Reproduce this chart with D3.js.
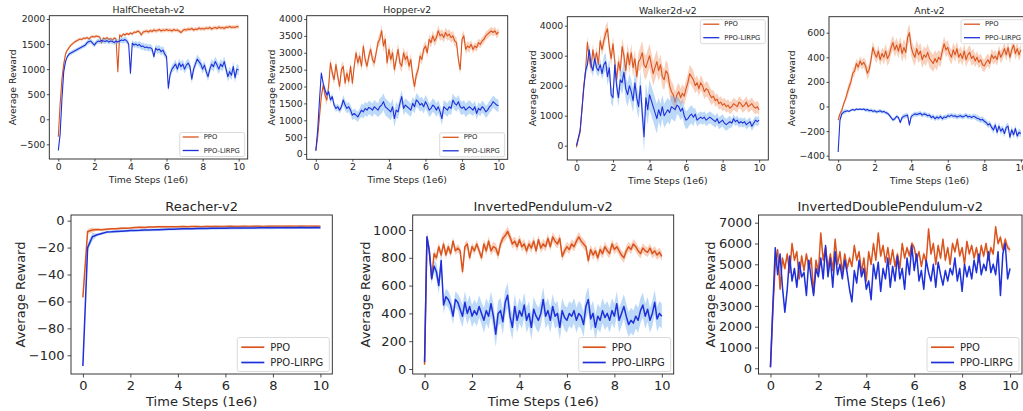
<!DOCTYPE html>
<html><head><meta charset="utf-8">
<script src="https://cdn.jsdelivr.net/npm/d3@7"></script>
<style>
body{margin:0;background:#fff}
svg{display:block}
text{font-family:"DejaVu Sans",sans-serif;fill:#262626}
</style>
</head><body>
<svg id="chart" width="1023" height="411"></svg>
<script>
// ---------------- DATA ----------------
const seriesNames = ["PPO", "PPO-LIRPG"];
const xTicks = [0, 2, 4, 6, 8, 10];
const xMax = 10;

const halfCheetahPPO = [
 -350,300,800,1100,1300,1380,1430,1480,1510,1540,
 1560,1580,1600,1590,1620,1610,1630,1600,1640,1650,
 1640,1660,1650,1640,1520,1620,1600,1630,1590,1610,
 1580,1620,1600,950,1680,1650,1700,1680,1710,1690,
 1720,1700,1740,1730,1760,1740,1680,1740,1750,1760,
 1740,1770,1750,1780,1760,1770,1790,1760,1780,1770,
 1790,1770,1780,1760,1790,1770,1780,1760,1730,1770,
 1790,1780,1800,1790,1810,1780,1800,1790,1820,1800,
 1810,1800,1820,1810,1830,1800,1820,1830,1810,1840,
 1820,1830,1810,1840,1830,1850,1830,1840,1830,1850,
 1840];
const halfCheetahLIRPG = [
 -620,-300,400,950,1150,1250,1300,1320,1340,1360,
 1380,1400,1420,1440,1460,1480,1530,1550,1560,1520,
 1480,1530,1560,1550,1570,1560,1550,1570,1540,1560,
 1550,1530,1560,1540,1560,1580,1570,1590,1560,1500,
 920,1520,1480,1500,1470,1490,1450,1460,1430,1440,
 1420,1430,1400,1250,1420,1380,1400,1350,1380,1300,
 1250,620,900,1000,1050,1100,1000,1120,1050,1100,
 1000,1080,1120,1050,800,1000,1100,1200,1150,1100,
 1000,1080,950,850,1000,1100,1050,1150,1080,1000,
 1100,1050,1150,1000,850,950,880,1050,830,1000,
 980];
const halfCheetahPPOStd = [40,30,30,30,30,40,40,40,40,40,40];
const halfCheetahLIRPGStd = [40,40,50,50,60,70,80,90,90,100,100];

const hopperPPO = [
 100,500,1100,1700,2050,1750,1600,2000,2700,2400,
 2200,2650,2300,2000,2500,2600,2100,2400,2150,2600,
 2100,2600,3000,2700,2900,2600,3200,2800,2600,2900,
 3100,2800,2700,3000,3300,3400,3650,3200,3400,2700,
 3100,2800,3000,2500,2800,3100,2700,2600,3000,2800,
 2900,2600,2800,2300,2000,2350,2500,2900,2800,3100,
 3200,3000,3400,3300,3500,3350,3450,3650,3500,3550,
 3450,3600,3500,3550,3450,3500,3350,3300,2800,2500,
 3400,3500,3100,3200,3150,3250,3100,3200,3150,3300,
 3250,3350,3400,3500,3550,3600,3650,3600,3650,3550,
 3620];
const hopperLIRPG = [
 100,700,1600,2400,2100,1900,1750,1850,1600,1700,
 1450,1350,1400,1300,1400,1600,1450,1350,1400,1300,
 1150,1200,1150,1100,1200,1300,1250,1350,1300,1380,
 1350,1300,1400,1350,1300,1400,1450,1550,1400,1350,
 1300,1250,1400,1050,1300,1250,1500,1700,1350,1450,
 1400,1350,1300,1500,1400,1600,1550,1450,1500,1400,
 1550,1450,1300,1350,1450,1400,1300,1400,1250,1050,
 1400,1350,1300,1400,1350,1600,1500,1450,1550,1400,
 1350,1400,1300,1350,1400,1350,1300,1400,1200,1350,
 1300,1400,1350,1250,1300,1400,1450,1550,1500,1450,
 1430];
const hopperPPOStd = [60,150,150,150,180,180,150,150,150,120,120];
const hopperLIRPGStd = [60,100,150,200,250,200,200,200,200,180,180];

const walkerPPO = [
 -50,200,450,1200,2000,2500,3450,2900,2600,3200,
 2800,3100,2700,3500,3200,3500,3750,3900,3300,2900,
 3400,2800,2200,2800,2500,3300,3000,2500,3100,2700,
 3100,2600,2900,2300,2800,2900,3100,2700,2600,2800,
 3000,2700,2400,2600,2800,2500,2700,2300,2200,2500,
 2400,2000,1800,1700,1450,1700,1800,1600,1750,1650,
 1900,2100,2400,2300,2200,2000,2100,1900,2100,2000,
 1800,1900,1850,1700,1600,1650,1500,1550,1400,1450,
 1350,1400,1300,1350,1250,1300,1400,1350,1300,1450,
 1400,1300,1350,1450,1300,1350,1400,1300,1250,1300,
 1200];
const walkerLIRPG = [
 0,250,500,1200,1900,2500,2700,3200,2700,2500,
 2900,2600,2500,2700,2400,2700,2800,2300,2600,1700,
 1600,2700,2000,1600,2200,2100,2450,1900,1700,2000,
 1800,1500,2100,1600,1300,2000,1100,300,1600,1200,
 1700,1500,1300,1100,900,1200,1000,1300,1000,1100,
 1200,1100,1300,1250,1200,1350,1300,1150,1250,1000,
 850,900,1000,1050,950,1050,850,900,950,900,
 950,850,900,950,900,850,800,900,750,800,
 850,750,700,750,800,750,900,800,850,750,
 800,750,800,700,750,800,650,750,850,800,
 850];
const walkerPPOStd = [80,200,250,300,400,350,300,250,200,200,200];
const walkerLIRPGStd = [80,200,300,400,500,400,300,200,200,150,150];

const antPPO = [
 -110,-60,-30,20,60,110,160,200,270,290,
 350,320,370,340,360,330,270,300,380,480,
 430,400,450,380,430,400,450,390,420,480,
 520,460,500,450,510,430,480,440,560,600,
 480,430,400,470,420,450,380,420,400,440,
 390,370,350,390,360,400,380,450,510,460,
 480,430,400,460,420,470,400,430,390,450,
 380,420,440,390,410,370,400,360,380,340,
 330,360,380,350,420,390,410,380,450,400,
 430,470,420,480,400,460,500,430,470,420,
 460];
const antLIRPG = [
 -370,-110,-60,-45,-40,-35,-40,-30,-25,-30,
 -20,-25,-20,-25,-20,-30,-25,-35,-30,-40,
 -35,-45,-40,-35,-45,-40,-50,-55,-70,-90,
 -110,-100,-80,-90,-130,-90,-80,-75,-70,-150,
 -80,-70,-60,-65,-60,-55,-70,-60,-65,-75,
 -70,-90,-80,-100,-85,-95,-80,-100,-85,-90,
 -75,-80,-70,-80,-75,-85,-80,-75,-85,-80,
 -70,-85,-80,-90,-80,-85,-95,-100,-110,-105,
 -120,-130,-150,-140,-170,-190,-150,-210,-160,-200,
 -180,-220,-170,-160,-250,-190,-230,-180,-240,-210,
 -220];
const antPPOStd = [20,40,50,60,70,70,60,60,50,50,50];
const antLIRPGStd = [20,10,15,15,20,20,20,20,25,30,30];

const reacherPPO = [
 -57,-8,-7,-6.5,-6.8,-6.3,-6.1,-6.0,-5.7,-5.6,
 -5.4,-5.1,-4.9,-5.0,-4.8,-4.7,-4.6,-4.6,-4.5,-4.6,
 -4.5,-4.4,-4.5,-4.4,-4.4,-4.5,-4.3,-4.4,-4.3,-4.4,
 -4.3,-4.2,-4.3,-4.3,-4.2,-4.3,-4.2,-4.2,-4.3,-4.2,
 -4.2,-4.1,-4.2,-4.2,-4.1,-4.2,-4.1,-4.2,-4.1,-4.2,
 -4.2];
const reacherLIRPG = [
 -108,-20,-12,-10.5,-9.5,-8.5,-8.3,-8.0,-7.8,-7.6,
 -7.4,-7.3,-7.2,-7.0,-6.9,-6.8,-6.7,-6.5,-6.4,-6.3,
 -6.2,-6.1,-6.0,-6.0,-5.9,-5.8,-5.8,-5.7,-5.7,-5.6,
 -5.6,-5.5,-5.5,-5.5,-5.4,-5.4,-5.4,-5.3,-5.3,-5.3,
 -5.3,-5.2,-5.2,-5.3,-5.2,-5.2,-5.1,-5.2,-5.2,-5.1,
 -5.2];
const reacherPPOStd = [2,0.8,0.8,0.8,0.8,0.8,0.8,0.8,0.8,0.8,0.8];
const reacherLIRPGStd = [3,1,1,1,1,1,1,1,1,1,1];

const pendulumPPO = [
 30,950,850,650,830,800,880,820,900,820,
 880,830,920,850,870,850,700,880,900,800,
 880,850,900,850,800,900,850,920,850,880,
 870,820,900,940,960,990,950,900,920,880,
 930,880,900,850,900,870,920,850,930,870,
 900,880,940,880,950,920,900,940,810,850,
 880,860,900,880,920,950,920,900,880,780,
 860,820,850,800,860,830,880,850,830,900,
 860,880,850,820,800,850,880,860,900,880,
 850,830,870,850,840,870,830,850,820,840,
 810];
const pendulumLIRPG = [
 50,950,850,650,740,700,600,780,460,520,
 500,460,380,500,480,430,380,480,400,450,
 380,420,390,450,400,350,420,380,470,380,
 250,400,420,340,480,530,380,300,450,350,
 420,380,460,350,400,300,430,380,350,400,
 500,380,420,350,450,380,400,300,420,370,
 350,400,380,420,350,400,380,320,450,500,
 360,400,300,380,350,420,370,400,350,420,
 380,470,350,400,450,380,320,350,330,380,
 350,420,460,380,430,350,400,480,360,400,
 380];
const pendulumPPOStd = [30,30,30,35,35,35,35,35,35,35,35];
const pendulumLIRPGStd = [40,60,80,90,90,90,90,90,90,90,90];

const doublePendulumPPO = [
 50,2800,5000,5700,3800,5300,4800,5500,4600,6000,
 5200,5600,4300,5400,4700,5500,4800,5300,3600,5200,
 4600,6500,5200,5800,4800,5500,4700,6200,5000,5600,
 4600,5500,4800,5300,4900,5900,5200,5600,4600,5300,
 4200,5600,5000,6000,5200,6500,5400,5900,5100,5800,
 5000,5700,4900,5500,4800,6000,5300,5800,5400,6000,
 5800,5200,5600,4900,5500,5100,6700,5500,6000,5000,
 5900,5300,6200,5200,5800,5000,6000,5600,6200,5400,
 5800,5000,6100,5500,5900,5300,5800,5100,5900,5400,
 6000,5200,5800,5500,6800,6000,6300,5700,6200,5800,
 5700];
const doublePendulumLIRPG = [
 50,3000,5800,4500,5500,3900,2700,3800,5400,4200,
 4800,3900,5100,4400,4600,3500,5200,4300,3500,4800,
 4400,5300,4300,5900,4400,5300,3900,5600,4500,5000,
 4300,5200,4600,3800,3200,4700,4100,5200,4400,4800,
 3800,4200,3300,5000,4300,5100,3700,4800,4300,5300,
 3900,4900,4200,5400,4300,4800,3800,5300,4500,5900,
 4700,5500,4200,4700,3800,5200,4600,4200,5000,3900,
 5100,4500,4000,4700,4200,4800,4500,5300,4200,4800,
 3700,5000,4400,4900,4300,5200,4600,5500,4500,5000,
 4700,5600,4600,5000,4500,5600,3500,5500,6000,4300,
 4800];
const doublePendulumPPOStd = [100,150,150,150,150,150,150,150,150,150,150];
const doublePendulumLIRPGStd = [100,120,120,120,120,120,120,120,120,120,120];

const yTicksHalfCheetah = [-500,0,500,1000,1500,2000];
const yTicksHopper = [0,500,1000,1500,2000,2500,3000,3500,4000];
const yTicksWalker = [0,1000,2000,3000,4000];
const yTicksAnt = [-400,-200,0,200,400,600];
const yTicksReacher = [-100,-80,-60,-40,-20,0];
const yTicksPendulum = [0,200,400,600,800,1000];
const yTicksDoublePendulum = [0,1000,2000,3000,4000,5000,6000,7000];

// ---------------- LAYOUT ----------------
const topStyle = {fs:9.3, tickFs:9.3, legFs:6.8, lw:1.1, tick:2.5, pad:1.5, xlabDy:20, titleDy:-2.6,
             legW:65, legH:24, legRow1:4.5, legRow2:18, hx0:3, hx1:19, tx:24};
const botStyle = {fs:13, tickFs:13, legFs:10, lw:1.5, tick:3.5, pad:3, xlabDy:27.5, titleDy:-3.6,
             legW:92, legH:34, legRow1:9.7, legRow2:25, hx0:4, hx1:27, tx:33};

const panels = [
 {title:"HalfCheetah-v2", a:halfCheetahPPO, b:halfCheetahLIRPG, sa:halfCheetahPPOStd, sb:halfCheetahLIRPGStd,
  yt:yTicksHalfCheetah, box:[49.3,247.7,15.7,159], yd:[-793,2066], ylx:12, leg:"lr", st:topStyle},
 {title:"Hopper-v2", a:hopperPPO, b:hopperLIRPG, sa:hopperPPOStd, sb:hopperLIRPGStd,
  yt:yTicksHopper, box:[306.7,507.7,15.7,159.3], yd:[-157,4098], ylx:271.7, leg:"lr", st:topStyle},
 {title:"Walker2d-v2", a:walkerPPO, b:walkerLIRPG, sa:walkerPPOStd, sb:walkerLIRPGStd,
  yt:yTicksWalker, box:[567.3,768.3,16.7,160], yd:[-477,4300], ylx:532.7, leg:"ur", st:topStyle},
 {title:"Ant-v2", a:antPPO, b:antLIRPG, sa:antPPOStd, sb:antLIRPGStd,
  yt:yTicksAnt, box:[829,1030,16.7,160], yd:[-435,730], ylx:791.7, leg:"ur", st:topStyle},
 {title:"Reacher-v2", a:reacherPPO, b:reacherLIRPG, sa:reacherPPOStd, sb:reacherLIRPGStd,
  yt:yTicksReacher, box:[71,332.3,215,374], yd:[-113.9,4.2], ylx:20, leg:"lr", st:botStyle},
 {title:"InvertedPendulum-v2", a:pendulumPPO, b:pendulumLIRPG, sa:pendulumPPOStd, sb:pendulumLIRPGStd,
  yt:yTicksPendulum, box:[412.7,673.7,215,374], yd:[-36,1108], ylx:365, leg:"lr", st:botStyle},
 {title:"InvertedDoublePendulum-v2", a:doublePendulumPPO, b:doublePendulumLIRPG, sa:doublePendulumPPOStd, sb:doublePendulumLIRPGStd,
  yt:yTicksDoublePendulum, box:[758.5,1022,215,374], yd:[-274,7370], ylx:710, leg:"lr", st:botStyle}
];

const colors = {line:["#d9541e","#1f2fd9"], band:["#ee8a55","#6aaaf0"], bandOp:[0.4,0.45]};

const svg = d3.select("#chart");
const fmt = d3.format("");

panels.forEach((p, pi) => {
  const [x0,x1,y0,y1] = p.box, st = p.st;
  const x = d3.scaleLinear().domain([-0.5, 10.5]).range([x0, x1]);
  const y = d3.scaleLinear().domain(p.yd).range([y1, y0]);
  const g = svg.append("g");
  const cid = "clip" + pi;
  g.append("clipPath").attr("id", cid).append("rect")
    .attr("x", x0).attr("y", y0).attr("width", x1 - x0).attr("height", y1 - y0);
  const plot = g.append("g").attr("clip-path", `url(#${cid})`);

  [[p.a,p.sa],[p.b,p.sb]].forEach(([vals,std], si) => {
    const n = vals.length;
    const pts = vals.map((v,i) => {
      const xv = i * xMax / (n - 1);
      return {x: xv, y: v, s: std[Math.round(xv)]};
    });
    plot.append("path").datum(pts)
      .attr("d", d3.area().x(d => x(d.x)).y0(d => y(d.y - d.s)).y1(d => y(d.y + d.s)))
      .attr("fill", colors.band[si]).attr("fill-opacity", colors.bandOp[si]).attr("stroke","none");
    plot.append("path").datum(pts)
      .attr("d", d3.line().x(d => x(d.x)).y(d => y(d.y)))
      .attr("fill","none").attr("stroke", colors.line[si]).attr("stroke-width", st.lw)
      .attr("stroke-linejoin","round");
  });

  const ax = g.append("g").attr("transform", `translate(0,${y1})`)
    .call(d3.axisBottom(x).tickValues(xTicks).tickFormat(fmt).tickSizeInner(st.tick).tickSizeOuter(0).tickPadding(st.pad));
  const ay = g.append("g").attr("transform", `translate(${x0},0)`)
    .call(d3.axisLeft(y).tickValues(p.yt).tickFormat(fmt).tickSizeInner(st.tick).tickSizeOuter(0).tickPadding(st.pad));
  [ax, ay].forEach(a => {
    a.select(".domain").remove();
    a.selectAll("line").attr("stroke","#222").attr("stroke-width",0.8);
    a.selectAll("text").attr("font-size", st.tickFs).attr("font-family","DejaVu Sans").attr("fill","#262626");
  });

  g.append("rect").attr("x", x0).attr("y", y0).attr("width", x1 - x0).attr("height", y1 - y0)
    .attr("fill","none").attr("stroke","#222").attr("stroke-width",0.9);

  g.append("text").attr("x", (x0 + x1) / 2).attr("y", y0 + st.titleDy)
    .attr("text-anchor","middle").attr("font-size", st.fs).text(p.title);
  g.append("text").attr("x", (x0 + x1) / 2).attr("y", y1 + st.xlabDy)
    .attr("text-anchor","middle").attr("dominant-baseline","central").attr("font-size", st.fs).text("Time Steps (1e6)");
  g.append("text").attr("transform", `translate(${p.ylx},${(y0 + y1) / 2}) rotate(-90)`)
    .attr("text-anchor","middle").attr("dominant-baseline","central").attr("font-size", st.fs).text("Average Reward");

  const lx = pi === 3 ? 961 : x1 - 3 - st.legW;
  const ly = p.leg === "lr" ? y1 - 2.5 - st.legH : y0 + 3;
  const lg = g.append("g").attr("transform", `translate(${lx},${ly})`);
  lg.append("rect").attr("width", st.legW).attr("height", st.legH).attr("rx", 2)
    .attr("fill","#fff").attr("fill-opacity",0.8).attr("stroke","#d0d0d0").attr("stroke-width",0.8);
  seriesNames.forEach((name, si) => {
    const ry = si === 0 ? st.legRow1 : st.legRow2;
    lg.append("line").attr("x1", st.hx0).attr("x2", st.hx1).attr("y1", ry).attr("y2", ry)
      .attr("stroke", colors.line[si]).attr("stroke-width", st.lw + 0.2);
    lg.append("text").attr("x", st.tx).attr("y", ry).attr("dominant-baseline","central")
      .attr("font-size", st.legFs).text(name);
  });
});
</script>
</body></html>
